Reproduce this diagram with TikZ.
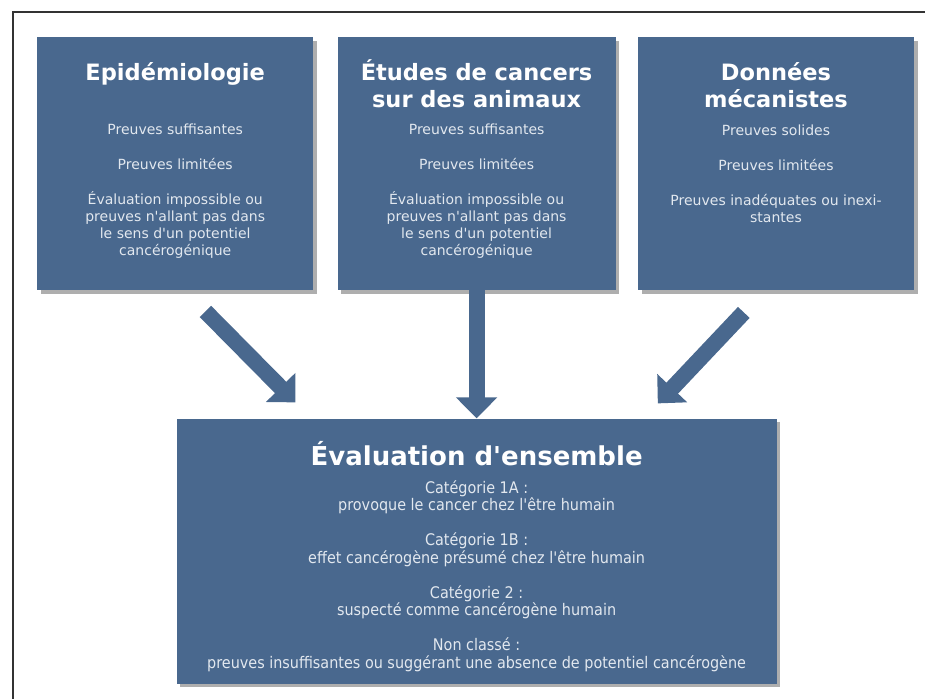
\documentclass[tikz,border=0pt]{standalone}
\usepackage{fontspec}
\newfontfamily\panelfont{DejaVu Sans}
\newfontfamily\condfont{DejaVu Sans Condensed}
\usetikzlibrary{positioning, arrows.meta, shadows}
\definecolor{panelblue}{RGB}{73,104,142}
\definecolor{paletext}{RGB}{226,232,239}

\begin{document}
\begin{tikzpicture}[
    x=1pt, y=-1pt,
    panel/.style={
        fill=panelblue,
        draw=none,
        inner sep=0pt,
        minimum height=253pt,
        drop shadow={shadow xshift=3.5pt, shadow yshift=-3.5pt, opacity=0.45, fill=black!70}
    },
    head/.style={text=white, align=center, inner sep=0pt,
        font=\panelfont\bfseries\fontsize{22.5}{27}\selectfont},
    items/.style={text=paletext, align=center, inner sep=0pt,
        font=\panelfont\fontsize{14}{16.7}\selectfont},
    flow/.style={draw=panelblue, line width=16pt,
        -{Triangle[width=40pt, length=21pt]}}
]
\useasboundingbox (0,0) rectangle (925,699);

% frame (top and left only)
\draw[line width=1.3pt, black!80] (925,12) -| (13,699);

% Three source panels
\node[panel, minimum width=276pt, anchor=north west] (epi) at (37,37) {};
\node[panel, minimum width=278pt, right=24pt of epi] (anim) {};
\node[panel, minimum width=276pt, right=22pt of anim] (meca) {};

% Overall evaluation panel
\node[panel, minimum width=600pt, minimum height=265pt, below=128pt of anim] (eval) {};

% Panel titles (base = baseline of the last line)
\node[head, anchor=base] (epititle) at ([yshift=-43pt]epi.north) {Epidémiologie};
\node[head, anchor=base] (animtitle) at ([yshift=-70pt]anim.north) {Études de cancers\\sur des animaux};
\node[head, anchor=base] (mecatitle) at ([yshift=-70pt]meca.north) {Données\\mécanistes};

% Panel contents
\node[items, anchor=base] (epiitems) at ([yshift=-218pt]epi.north) {
    Preuves suffisantes\\[18.3pt]
    Preuves limitées\\[18.3pt]
    Évaluation impossible ou\\
    preuves n'allant pas dans\\
    le sens d'un potentiel\\
    cancérogénique
};
\node[items, anchor=base] (animitems) at ([yshift=-218pt]anim.north) {
    Preuves suffisantes\\[18.3pt]
    Preuves limitées\\[18.3pt]
    Évaluation impossible ou\\
    preuves n'allant pas dans\\
    le sens d'un potentiel\\
    cancérogénique
};
\node[items, anchor=base] (mecaitems) at ([yshift=-185pt]meca.north) {
    Preuves solides\\[18.3pt]
    Preuves limitées\\[18.3pt]
    Preuves inadéquates ou inexi-\\
    stantes
};

% Evaluation text
\node[head, anchor=base, font=\panelfont\bfseries\fontsize{26}{30}\selectfont]
    (evaltitle) at ([yshift=-47pt]eval.north) {Évaluation d'ensemble};
\node[items, anchor=base, font=\condfont\fontsize{16}{17.5}\selectfont]
    (evalitems) at ([yshift=-250pt]eval.north) {
    Catégorie 1A :\\
    provoque le cancer chez l'être humain\\[17.5pt]
    Catégorie 1B :\\
    effet cancérogène présumé chez l'être humain\\[17.5pt]
    Catégorie 2 :\\
    suspecté comme cancérogène humain\\[17.5pt]
    Non classé :\\
    preuves insuffisantes ou suggérant une absence de potentiel cancérogène
};

% Arrows into the evaluation
\draw[flow] ([shift={(-108,21)}]epi.south east) -- ([shift={(119,-16)}]eval.north west);
\draw[flow] (anim.south) -- (eval.north);
\draw[flow] ([shift={(106,22)}]meca.south west) -- ([shift={(-119,-15)}]eval.north east);

\end{tikzpicture}
\end{document}
